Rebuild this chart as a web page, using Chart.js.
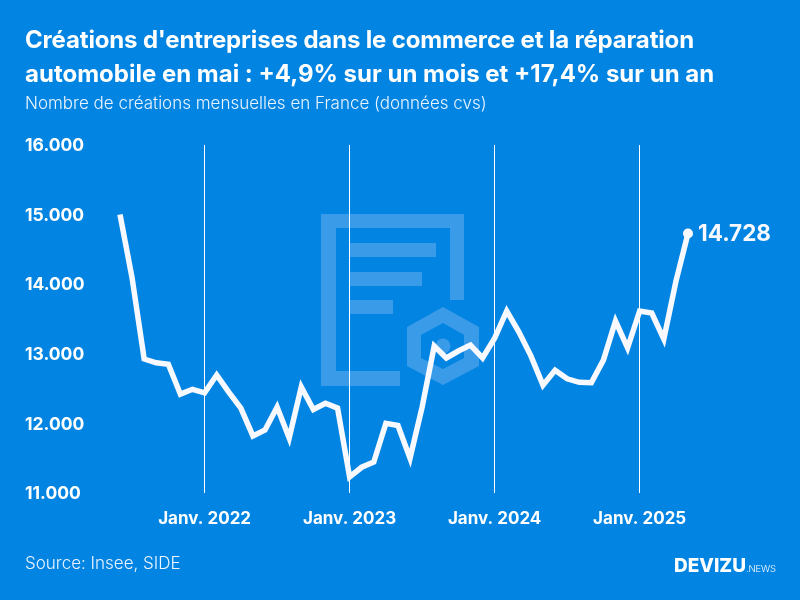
<!DOCTYPE html>
<html lang="fr">
<head>
<meta charset="utf-8">
<title>Créations d'entreprises</title>
<script src="https://cdn.jsdelivr.net/npm/chart.js@4"></script>
<style>
  html, body { margin: 0; padding: 0; }
  body { position: relative; width: 800px; height: 600px; overflow: hidden; background: #0284e2; color: #fff; font-family: Inter, sans-serif; }
  #watermark, #chart, .txt { position: absolute; }
  #watermark { left: 0; top: 0; }
  #chart { left: 0; top: 0; }
  .txt { white-space: nowrap; left: 25px; }
  #title { top: 23px; font-size: 24px; font-weight: 700; line-height: 34px; }
  #title .first { letter-spacing: -0.16px; }
  #subtitle { top: 93px; font-size: 17px; font-weight: 300; line-height: 20px; color: #eaf4ff; }
  #source { top: 553px; font-size: 17px; font-weight: 300; line-height: 20px; color: #eaf4ff; }
  #brand { left: 674px; top: 554px; font-size: 19px; font-weight: 800; line-height: 24px; }
  #brand span { font-size: 9.5px; font-weight: 300; letter-spacing: -0.2px; }
</style>
</head>
<body>
<svg id="watermark" width="800" height="600" fill="#3a9be9">
  <path d="M321 214H464V300H450V228H336V371H400V386H321Z"/>
  <rect x="350" y="243" width="86" height="14"/>
  <rect x="350" y="272" width="72" height="14"/>
  <rect x="350" y="300" width="43" height="14"/>
  <path fill-rule="evenodd" d="M443 307L479 327V366L443 385L407 366V327ZM443 323L421 335V358L443 369L464 358V335Z"/>
  <circle cx="443" cy="346" r="7.5"/>
</svg>
<canvas id="chart" width="800" height="600"></canvas>
<div class="txt" id="title"><span class="first">Créations d'entreprises dans le commerce et la réparation</span><br>automobile en mai : +4,9% sur un mois et +17,4% sur un an</div>
<div class="txt" id="subtitle">Nombre de créations mensuelles en France (données cvs)</div>
<div class="txt" id="source">Source: Insee, SIDE</div>
<div class="txt" id="brand">DEVIZU<span>.NEWS</span></div>
<script>
  const MONTHS = [
    'Juin 2021', 'Juil. 2021', 'Août 2021', 'Sept. 2021', 'Oct. 2021', 'Nov. 2021', 'Déc. 2021',
    'Janv. 2022', 'Févr. 2022', 'Mars 2022', 'Avr. 2022', 'Mai 2022', 'Juin 2022', 'Juil. 2022', 'Août 2022', 'Sept. 2022', 'Oct. 2022', 'Nov. 2022', 'Déc. 2022',
    'Janv. 2023', 'Févr. 2023', 'Mars 2023', 'Avr. 2023', 'Mai 2023', 'Juin 2023', 'Juil. 2023', 'Août 2023', 'Sept. 2023', 'Oct. 2023', 'Nov. 2023', 'Déc. 2023',
    'Janv. 2024', 'Févr. 2024', 'Mars 2024', 'Avr. 2024', 'Mai 2024', 'Juin 2024', 'Juil. 2024', 'Août 2024', 'Sept. 2024', 'Oct. 2024', 'Nov. 2024', 'Déc. 2024',
    'Janv. 2025', 'Févr. 2025', 'Mars 2025', 'Avr. 2025', 'Mai 2025'
  ];
  const CREATIONS = [
    15000, 14090, 12925, 12870, 12850, 12420, 12490,
    12440, 12695, 12450, 12220, 11820, 11905, 12235, 11790, 12525, 12200, 12290, 12220,
    11230, 11370, 11445, 12000, 11970, 11500, 12235, 13110, 12940, 13040, 13125, 12940,
    13225, 13615, 13315, 12970, 12550, 12765, 12640, 12590, 12585, 12910, 13470, 13085,
    13615, 13585, 13210, 14040, 14728
  ];
  const LAST_LABEL = '14.728';

  const WHITE = '#f8f9ff';
  const lastIndex = CREATIONS.length - 1;

  // label next to the last point
  const lastValuePlugin = {
    id: 'lastValue',
    afterDatasetsDraw(chart) {
      const pt = chart.getDatasetMeta(0).data[lastIndex];
      const ctx = chart.ctx;
      ctx.save();
      ctx.fillStyle = WHITE;
      ctx.font = '700 22.5px Inter';
      ctx.textBaseline = 'middle';
      ctx.fillText(LAST_LABEL, pt.x + 10, pt.y + 1);
      ctx.restore();
    },
  };

  new Chart(document.getElementById('chart'), {
    type: 'line',
    data: {
      labels: MONTHS,
      datasets: [{
        data: CREATIONS,
        borderColor: WHITE,
        backgroundColor: WHITE,
        borderWidth: 5.5,
        borderJoinStyle: 'miter',
        borderCapStyle: 'butt',
        tension: 0,
        pointRadius: (c) => (c.dataIndex === lastIndex ? 5 : 0),
        pointBorderWidth: 0,
      }],
    },
    options: {
      responsive: false,
      animation: false,
      layout: { padding: { left: 25, right: 112, top: 145, bottom: 67 } },
      plugins: { legend: { display: false }, tooltip: { enabled: false } },
      scales: {
        x: {
          type: 'category',
          offset: false,
          afterFit: (scale) => { scale.height = 40; },
          border: { display: false },
          grid: {
            color: (c) => (String(MONTHS[c.index]).startsWith('Janv.') ? '#ffffff' : 'transparent'),
            lineWidth: 1,
            drawTicks: false,
          },
          ticks: {
            autoSkip: false,
            maxRotation: 0,
            padding: 16,
            color: '#fff',
            font: { family: 'Inter', size: 17, weight: '700' },
            callback(value) {
              const label = this.getLabelForValue(value);
              return label.startsWith('Janv.') ? label : '';
            },
          },
        },
        y: {
          min: 11000,
          max: 16000,
          afterFit: (scale) => { scale.width = 95; },
          border: { display: false },
          grid: { display: false },
          ticks: {
            stepSize: 1000,
            crossAlign: 'far',
            padding: 0,
            labelOffset: 1,
            color: '#fff',
            font: { family: 'Inter', size: 17.5, weight: '700' },
            callback: (value) => String(value).replace(/(\d{3})$/, '.$1'),
          },
        },
      },
    },
    plugins: [lastValuePlugin],
  });
</script>
</body>
</html>
